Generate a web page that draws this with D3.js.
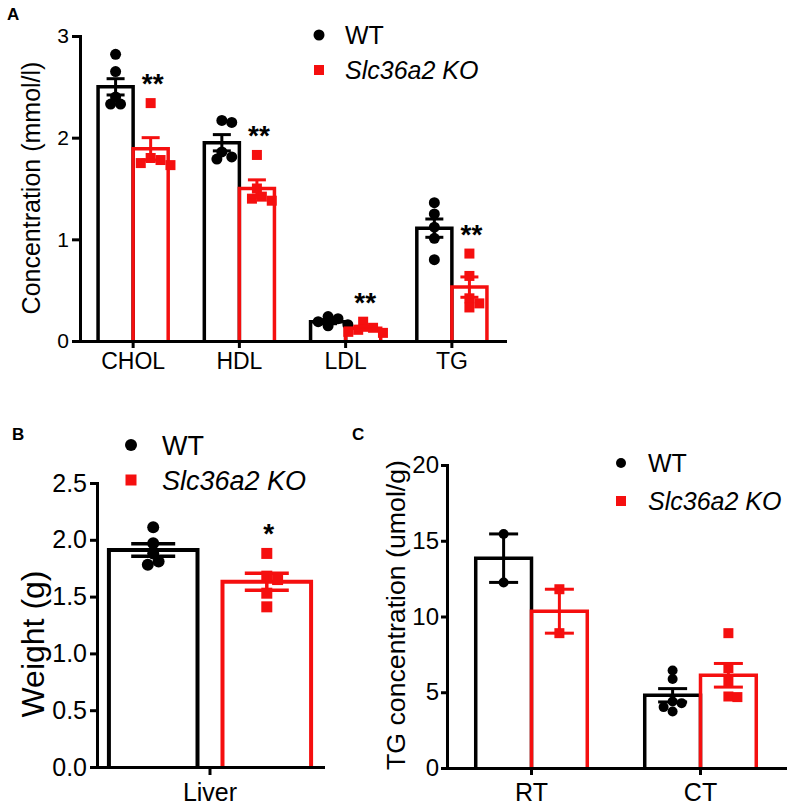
<!DOCTYPE html>
<html>
<head>
<meta charset="utf-8">
<script src="https://cdn.jsdelivr.net/npm/d3@7"></script>
<style>
  body { margin: 0; background: #fff; }
  svg { display: block; }
  text { font-family: "Liberation Sans", Arial, Helvetica, sans-serif; }
</style>
</head>
<body>
<svg id="fig" width="794" height="811"></svg>
<script>
// groups shared by all three panels
const groups = ["WT", "Slc36a2 KO"];

// A: serum lipids (mmol/l)
const lipidCats = ["CHOL", "HDL", "LDL", "TG"];
const lipidWtMean = [2.50, 1.95, 0.19, 1.11];
const lipidWtSem = [0.08, 0.08, 0.02, 0.09];
const lipidKoMean = [1.89, 1.50, 0.125, 0.53];
const lipidKoSem = [0.11, 0.085, 0.02, 0.10];
const lipidWtPts = [[2.82, 2.65, 2.40, 2.33, 2.33], [2.17, 2.15, 1.86, 1.81, 1.79], [0.24, 0.22, 0.19, 0.16, 0.15], [1.36, 1.25, 1.12, 1.01, 0.80]];
const lipidKoPts = [[2.34, 1.80, 1.78, 1.75, 1.73], [1.83, 1.50, 1.42, 1.40, 1.38], [0.19, 0.13, 0.11, 0.09, 0.08], [0.86, 0.64, 0.42, 0.37, 0.33]];
const lipidTicks = [0, 1, 2, 3];
const lipidSig = ["**", "**", "**", "**"];

// B: liver weight (g)
const liverCats = ["Liver"];
const liverWtMean = [1.91];
const liverWtSem = [0.055];
const liverKoMean = [1.63];
const liverKoSem = [0.075];
const liverWtPts = [[2.11, 1.97, 1.88, 1.81, 1.78]];
const liverKoPts = [[1.88, 1.68, 1.65, 1.53, 1.41]];
const liverTicks = [0, 0.5, 1.0, 1.5, 2.0, 2.5];
const liverSig = ["*"];

// C: TG concentration (umol/g)
const tempCats = ["RT", "CT"];
const tempWtMean = [13.85, 4.80];
const tempWtSem = [1.60, 0.44];
const tempKoMean = [10.35, 6.12];
const tempKoSem = [1.45, 0.78];
const tempWtPts = [[15.45, 12.25], [6.43, 5.87, 4.39, 4.28, 4.02, 3.73]];
const tempKoPts = [[11.8, 8.9], [8.9, 6.6, 5.7, 4.72, 4.68]];
const tempTicks = [0, 5, 10, 15, 20];

const colors = ["#000000", "#f50f0f"];
const svg = d3.select("#fig");

// spread points sideways when they would overlap (like a column scatter)
function swarm(vals, y, r) {
  const placed = [];
  return vals.map(v => {
    const py = y(v);
    let dx = 0;
    for (let k = 0; k < 30; k++) {
      const off = k === 0 ? 0 : (k % 2 ? 1 : -1) * Math.ceil(k / 2) * r * 0.9;
      if (placed.every(p => Math.hypot(p[0] - off, p[1] - py) >= 1.5 * r)) { dx = off; break; }
    }
    placed.push([dx, py]);
    return dx;
  });
}

function drawPanel(o) {
  const g = svg.append("g");
  const y = d3.scaleLinear().domain([0, o.ticks[o.ticks.length - 1]]).range([o.y0, o.y1]);
  const x0 = d3.scaleBand().domain(o.cats).range([o.xa, o.xb])
    .paddingInner(o.padIn).paddingOuter(o.padOut);
  const x1 = d3.scaleBand().domain(groups).range([0, x0.bandwidth()]).paddingInner(o.barGap);
  const bw = x1.bandwidth();

  o.series.forEach((s, si) => {
    o.cats.forEach((c, ci) => {
      const bx = x0(c) + x1(groups[si]);
      const cx = bx + bw / 2;
      // open bar
      g.append("path")
        .attr("d", `M${bx},${y(0)}V${y(s.mean[ci])}H${bx + bw}V${y(0)}`)
        .attr("fill", "none").attr("stroke", colors[si])
        .attr("stroke-width", o.barStroke).attr("stroke-linejoin", "miter");

      const offs = swarm(s.pts[ci], y, o.r);
      s.pts[ci].forEach((v, i) => {
        if (si === 0) {
          g.append("circle").attr("cx", cx + offs[i]).attr("cy", y(v)).attr("r", o.r).attr("fill", colors[si]);
        } else {
          g.append("rect").attr("x", cx + offs[i] - o.sq / 2).attr("y", y(v) - o.sq / 2)
            .attr("width", o.sq).attr("height", o.sq).attr("fill", colors[si]);
        }
      });

      // mean +/- SEM
      const hi = y(s.mean[ci] + s.sem[ci]), lo = y(s.mean[ci] - s.sem[ci]);
      const eb = g.append("g").attr("stroke", colors[si]).attr("stroke-width", o.errStroke);
      eb.append("line").attr("x1", cx).attr("x2", cx).attr("y1", hi).attr("y2", lo);
      eb.append("line").attr("x1", cx - o.capW / 2).attr("x2", cx + o.capW / 2).attr("y1", hi).attr("y2", hi);
      eb.append("line").attr("x1", cx - o.capW / 2).attr("x2", cx + o.capW / 2).attr("y1", lo).attr("y2", lo);

      if (si === 1 && o.sig) {
        const top = y(d3.max(s.pts[ci]));
        g.append("text").attr("x", cx + 2).attr("y", top - o.sigGap + 0.58 * o.sigFont)
          .attr("text-anchor", "middle").attr("font-size", o.sigFont)
          .attr("font-weight", "bold").text(o.sig[ci]);
      }
    });
  });

  // axes
  const yAxis = g.append("g").attr("transform", `translate(${o.xa},0)`)
    .call(d3.axisLeft(y).tickValues(o.ticks).tickFormat(o.fmt)
      .tickSize(o.yTick).tickSizeOuter(0).tickPadding(o.yPad));
  const xAxis = g.append("g").attr("transform", `translate(0,${y(0)})`)
    .call(d3.axisBottom(x0).tickSize(o.xTick).tickSizeOuter(0).tickPadding(o.xPad));
  [yAxis, xAxis].forEach(a => {
    a.select(".domain").attr("stroke-width", o.axisStroke).attr("stroke-linecap", "square");
    a.selectAll(".tick line").attr("stroke-width", o.axisStroke);
    a.selectAll("text").attr("fill", "#000").style("font-family", "'Liberation Sans', Arial, sans-serif");
  });
  yAxis.selectAll("text").attr("font-size", o.tickFont);
  xAxis.selectAll("text").attr("font-size", o.catFont);

  // axis title
  g.append("text")
    .attr("transform", `translate(${o.titleX},${o.titleY}) rotate(-90)`)
    .attr("text-anchor", "middle").attr("font-size", o.titleFont).text(o.title);

  // legend
  const lg = g.append("g");
  lg.append("circle").attr("cx", o.legX).attr("cy", o.legY[0]).attr("r", o.r).attr("fill", colors[0]);
  lg.append("rect").attr("x", o.legX - o.sq / 2).attr("y", o.legY[1] - o.sq / 2)
    .attr("width", o.sq).attr("height", o.sq).attr("fill", colors[1]);
  groups.forEach((name, i) => {
    lg.append("text").attr("x", o.legTextX).attr("y", o.legY[i]).attr("dy", "0.36em")
      .attr("font-size", o.legFont).attr("font-style", i === 1 ? "italic" : "normal").text(name);
  });

  // panel letter
  g.append("text").attr("x", o.letterX).attr("y", o.letterY)
    .attr("font-size", 17).attr("font-weight", "bold").text(o.letter);
}

drawPanel({
  letter: "A", letterX: 7, letterY: 20,
  cats: lipidCats, ticks: lipidTicks, fmt: d3.format("d"), sig: lipidSig,
  series: [
    { mean: lipidWtMean, sem: lipidWtSem, pts: lipidWtPts },
    { mean: lipidKoMean, sem: lipidKoSem, pts: lipidKoPts }
  ],
  xa: 80, xb: 505, y0: 341, y1: 36, padIn: 0.34, padOut: 0.17, barGap: 0,
  barStroke: 3.5, errStroke: 3, axisStroke: 3, capW: 18, r: 5.5, sq: 10,
  yTick: 8, yPad: 3, xTick: 7, xPad: 5, tickFont: 21, catFont: 23,
  title: "Concentration (mmol/l)", titleX: 40, titleY: 188, titleFont: 25,
  legX: 319, legY: [35, 70], legTextX: 345, legFont: 25,
  sigFont: 28, sigGap: 26
});

drawPanel({
  letter: "B", letterX: 12, letterY: 440,
  cats: liverCats, ticks: liverTicks, fmt: d3.format(".1f"), sig: liverSig,
  series: [
    { mean: liverWtMean, sem: liverWtSem, pts: liverWtPts },
    { mean: liverKoMean, sem: liverKoSem, pts: liverKoPts }
  ],
  xa: 97, xb: 323, y0: 767, y1: 483, padIn: 0.1, padOut: 0.053, barGap: 0.22,
  barStroke: 4, errStroke: 3.5, axisStroke: 3, capW: 44, r: 6, sq: 11,
  yTick: 7, yPad: 3, xTick: 8, xPad: 8, tickFont: 25, catFont: 25,
  title: "Weight (g)", titleX: 44, titleY: 644, titleFont: 32,
  legX: 131, legY: [445, 480], legTextX: 162, legFont: 27,
  sigFont: 28, sigGap: 27
});

drawPanel({
  letter: "C", letterX: 352, letterY: 440,
  cats: tempCats, ticks: tempTicks, fmt: d3.format("d"), sig: null,
  series: [
    { mean: tempWtMean, sem: tempWtSem, pts: tempWtPts },
    { mean: tempKoMean, sem: tempKoSem, pts: tempKoPts }
  ],
  xa: 447, xb: 785, y0: 768, y1: 465, padIn: 0.34, padOut: 0.17, barGap: 0,
  barStroke: 3.5, errStroke: 3, axisStroke: 3, capW: 29, r: 5, sq: 10,
  yTick: 6, yPad: 2, xTick: 7, xPad: 8, tickFont: 24, catFont: 25,
  title: "TG concentration (umol/g)", titleX: 405, titleY: 615, titleFont: 26.7,
  legX: 621, legY: [463, 501], legTextX: 648, legFont: 25
});
</script>
</body>
</html>
